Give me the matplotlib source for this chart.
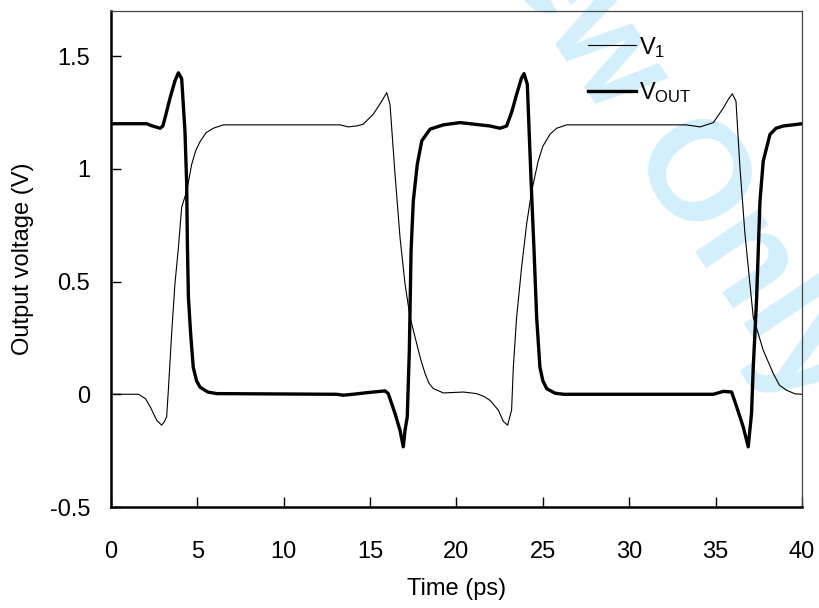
import numpy as np
import matplotlib
matplotlib.use("Agg")
import matplotlib.pyplot as plt
from matplotlib.ticker import FuncFormatter

plt.rcParams['font.family'] = ['Liberation Sans', 'DejaVu Sans']
plt.rcParams['mathtext.fontset'] = 'custom'
plt.rcParams['mathtext.rm'] = 'Liberation Sans'
plt.rcParams['mathtext.it'] = 'Liberation Sans'
plt.rcParams['axes.unicode_minus'] = False

# input node waveform (ps, V)
t_v1 = [0, 1.6, 2.0, 2.3, 2.64, 2.93, 3.1, 3.22, 3.32, 3.51, 3.70, 3.90, 4.09,
        4.38, 4.67, 4.9, 5.15, 5.5, 5.92, 6.5, 13.26, 13.74, 14.2, 14.6, 15.18,
        15.67, 15.96, 16.15, 16.44, 16.73, 17.02, 17.31, 17.6, 17.89, 18.18,
        18.4, 18.66, 19.24, 20.4, 21.17, 21.6, 21.94, 22.42, 22.71, 22.96,
        23.19, 23.29, 23.48, 23.77, 24.06, 24.35, 24.73, 25.0, 25.41, 25.8,
        26.38, 33.3, 34.1, 34.87, 35.45, 35.75, 35.97, 36.18, 36.41, 36.7,
        37.18, 37.76, 38.34, 38.7, 39.11, 39.6, 40]
v1 = [0.0, 0.0, -0.02, -0.06, -0.115, -0.137, -0.12, -0.10, 0.02, 0.27, 0.49,
      0.65, 0.83, 0.90, 1.02, 1.08, 1.12, 1.16, 1.18, 1.195, 1.195, 1.186, 1.19,
      1.198, 1.242, 1.30, 1.338, 1.286, 0.977, 0.696, 0.49, 0.342, 0.254, 0.165,
      0.092, 0.05, 0.025, 0.006, 0.01, 0.003, -0.01, -0.027, -0.07, -0.12,
      -0.137, -0.07, 0.12, 0.342, 0.563, 0.755, 0.90, 1.035, 1.10, 1.153, 1.18,
      1.195, 1.195, 1.186, 1.205, 1.27, 1.31, 1.333, 1.30, 1.006, 0.711, 0.342,
      0.195, 0.092, 0.04, 0.018, 0.002, 0.0]

# output node waveform (ps, V)
t_out = [0, 2.06, 2.4, 2.84, 3.0, 3.13, 3.42, 3.70, 3.90, 4.09, 4.28, 4.38,
         4.42, 4.48, 4.61, 4.76, 4.95, 5.15, 5.6, 6.12, 13.06, 13.45, 14.0,
         14.8, 15.86, 16.05, 16.44, 16.73, 16.92, 17.02, 17.15, 17.27, 17.37,
         17.5, 17.73, 17.99, 18.47, 19.24, 20.2, 21.94, 22.52, 22.9, 23.19,
         23.48, 23.77, 23.91, 24.1, 24.25, 24.35, 24.49, 24.64, 24.83, 25.0,
         25.22, 25.7, 26.2, 34.87, 35.45, 35.93, 36.22, 36.6, 36.89, 37.08,
         37.18, 37.37, 37.57, 37.76, 38.15, 38.5, 38.92, 40]
v_out = [1.2, 1.2, 1.19, 1.18, 1.19, 1.227, 1.315, 1.39, 1.426, 1.40, 1.168,
         0.932, 0.667, 0.43, 0.268, 0.12, 0.06, 0.032, 0.01, 0.003, 0.0, -0.004,
         0.0, 0.007, 0.015, 0.003, -0.085, -0.16, -0.233, -0.16, -0.10, 0.195,
         0.637, 0.858, 1.02, 1.124, 1.176, 1.195, 1.205, 1.19, 1.18, 1.19, 1.25,
         1.33, 1.404, 1.422, 1.375, 1.08, 0.888, 0.637, 0.342, 0.12, 0.06, 0.025,
         0.005, 0.0, 0.0, 0.013, 0.01, -0.056, -0.145, -0.233, -0.085, 0.12,
         0.416, 0.858, 1.035, 1.153, 1.18, 1.19, 1.2]

x_ticks = [0, 5, 10, 15, 20, 25, 30, 35, 40]
y_ticks = [-0.5, 0, 0.5, 1, 1.5]

fig = plt.figure(figsize=(8.2, 6.08), dpi=100)
ax = fig.add_axes([0.1354, 0.1661, 0.8426, 0.8158])
ax.patch.set_alpha(0)

# watermark behind the axes
fig.text(0.980, 0.3212, "For Review Only", fontsize=102, fontweight='bold',
         color='#d2effb', rotation=-56, rotation_mode='anchor', ha='right',
         va='baseline', zorder=-5)

ax.plot(t_v1, v1, color='black', lw=0.8, label=r'$\mathregular{V_1}$')
ax.plot(t_out, v_out, color='black', lw=2.4, label=r'$\mathregular{V_{OUT}}$')

ax.set_xlim(0, 40)
ax.set_ylim(-0.5, 1.7)
ax.set_xticks(x_ticks)
ax.set_yticks(y_ticks)
ax.yaxis.set_major_formatter(FuncFormatter(lambda v, p: f"{v:g}"))
ax.tick_params(direction='in', length=7, width=1, labelsize=17,
               top=False, right=False)
ax.tick_params(axis='y', pad=15)
ax.tick_params(axis='x', pad=24.5)

for side in ('left', 'bottom'):
    ax.spines[side].set_linewidth(1.8)
    ax.spines[side].set_color('black')
for side in ('top', 'right'):
    ax.spines[side].set_linewidth(0.9)
    ax.spines[side].set_color('#444444')

ax.set_xlabel('Time (ps)', fontsize=17, labelpad=11)
ax.set_ylabel('Output voltage (V)', fontsize=17, labelpad=11)

ax.legend(loc='upper left', bbox_to_anchor=(0.66, 0.995), frameon=False,
          fontsize=17, handlelength=2.0, handletextpad=0.15, labelspacing=0.87)

fig.savefig('out.png', dpi=100)
